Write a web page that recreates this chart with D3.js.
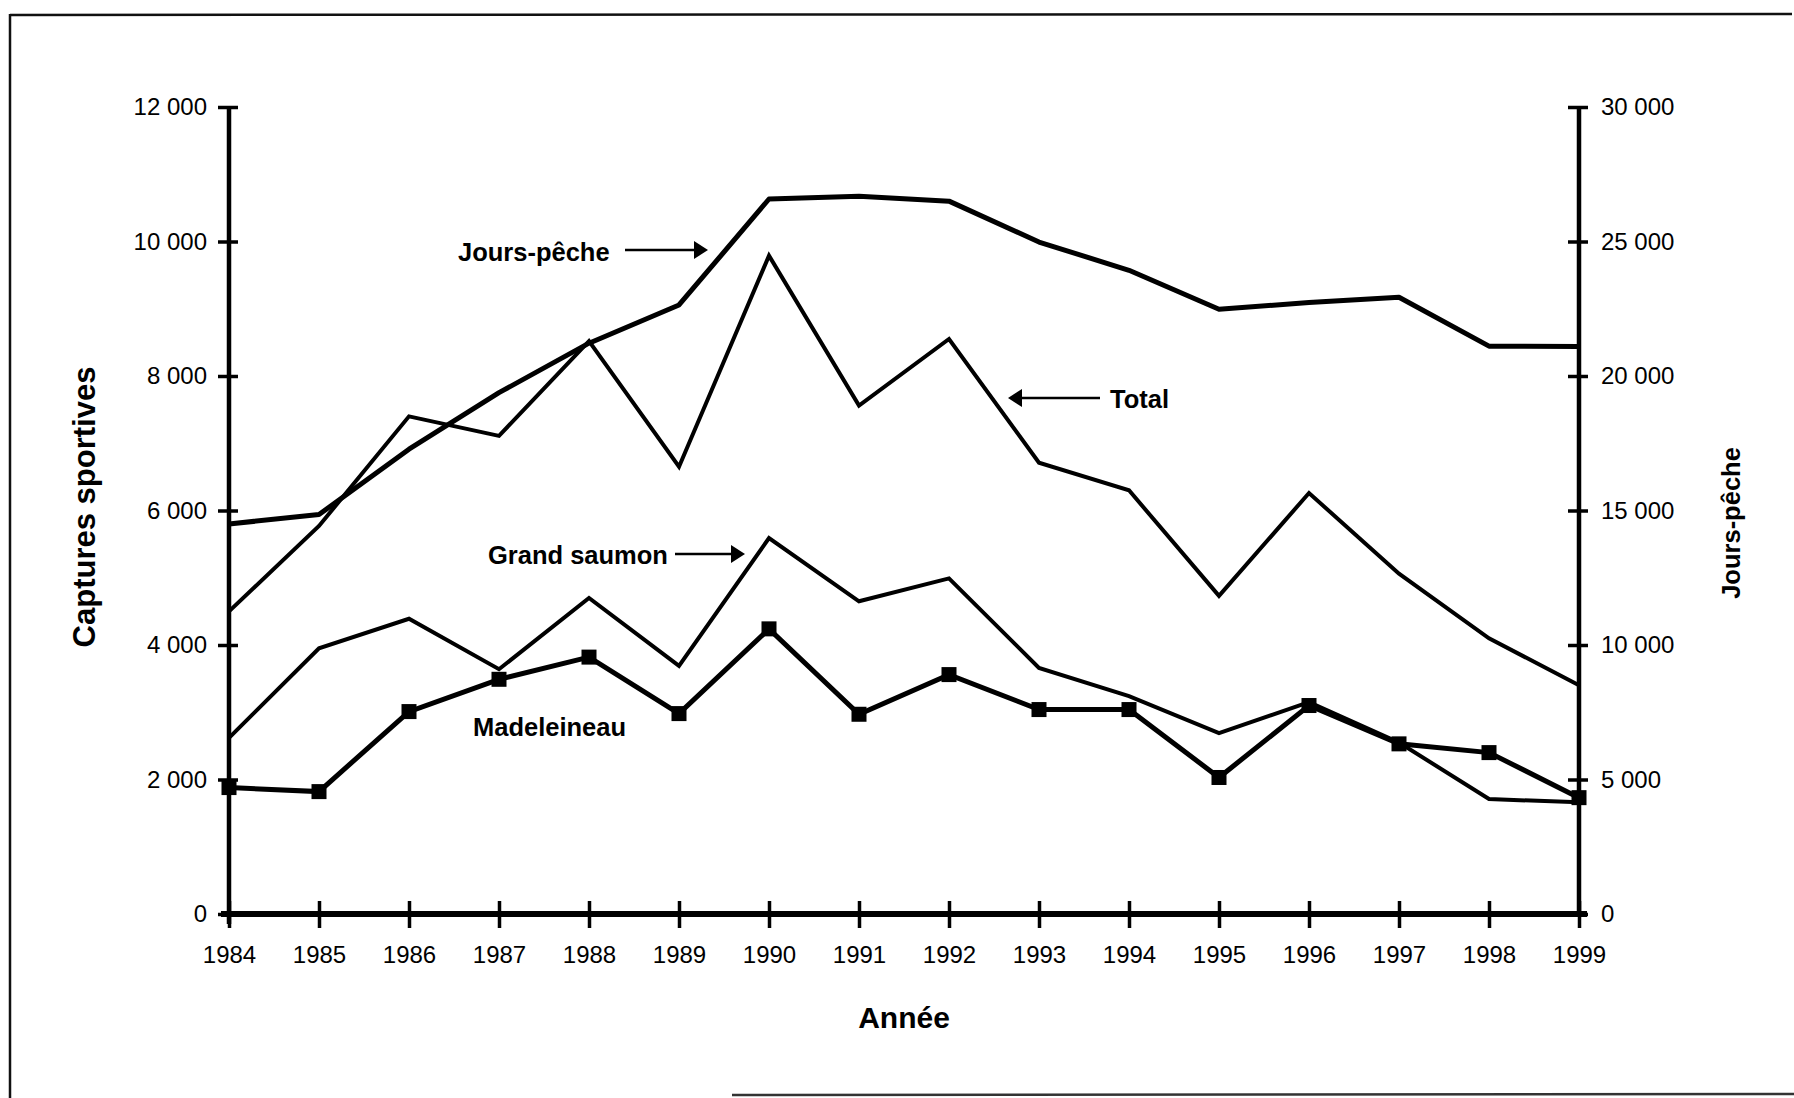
<!DOCTYPE html>
<html>
<head>
<meta charset="utf-8">
<script src="https://cdn.jsdelivr.net/npm/d3@7"></script>
<style>
  html, body { margin: 0; padding: 0; background: #fff; }
  svg { display: block; }
  text { font-family: "Liberation Sans", Arial, sans-serif; fill: #000; }
</style>
</head>
<body>
<svg id="chart" width="1794" height="1098"></svg>
<script>
// ---- Data ----
const years = [1984, 1985, 1986, 1987, 1988, 1989, 1990, 1991, 1992, 1993, 1994, 1995, 1996, 1997, 1998, 1999];
const joursPeche = [14500, 14850, 17280, 19380, 21220, 22640, 26580, 26680, 26500, 24980, 23930, 22480, 22730, 22930, 21110, 21100];
const total = [4500, 5770, 7400, 7110, 8520, 6650, 9790, 7560, 8550, 6710, 6300, 4730, 6260, 5060, 4100, 3400];
const grandSaumon = [2620, 3950, 4390, 3640, 4700, 3690, 5590, 4650, 4990, 3660, 3240, 2690, 3150, 2550, 1710, 1660];
const madeleineau = [1880, 1820, 3010, 3490, 3820, 2980, 4240, 2970, 3560, 3040, 3040, 2030, 3100, 2530, 2400, 1730];
const leftTicks = [0, 2000, 4000, 6000, 8000, 10000, 12000];
const rightTicks = [0, 5000, 10000, 15000, 20000, 25000, 30000];
const leftTitle = "Captures sportives";
const rightTitle = "Jours-pêche";
const xTitle = "Année";

// ---- Layout ----
const svg = d3.select("#chart");
const X0 = 229, X1 = 1579, YT = 107, YB = 914;

const x = d3.scaleLinear().domain([1984, 1999]).range([X0, X1]);
const yL = d3.scaleLinear().domain([0, 12000]).range([YB, YT]);
const yR = d3.scaleLinear().domain([0, 30000]).range([YB, YT]);
const fmt = v => d3.format(",")(v).replace(/,/g, " ");

// frame
svg.append("line").attr("x1", 10).attr("y1", 15).attr("x2", 1792).attr("y2", 14)
  .attr("stroke", "#111").attr("stroke-width", 2.5);
svg.append("line").attr("x1", 10).attr("y1", 14).attr("x2", 10).attr("y2", 1098)
  .attr("stroke", "#111").attr("stroke-width", 2.5);
svg.append("line").attr("x1", 732).attr("y1", 1095).attr("x2", 1794).attr("y2", 1094)
  .attr("stroke", "#333").attr("stroke-width", 2.5);

// ---- Axes ----
const axL = svg.append("g").attr("transform", `translate(${X0},0)`)
  .call(d3.axisLeft(yL).tickValues(leftTicks).tickFormat(fmt).tickSize(10).tickPadding(12));
const axR = svg.append("g").attr("transform", `translate(${X1},0)`)
  .call(d3.axisRight(yR).tickValues(rightTicks).tickFormat(fmt).tickSize(10).tickPadding(12));
const axX = svg.append("g").attr("transform", `translate(0,${YB})`)
  .call(d3.axisBottom(x).tickValues(years).tickFormat(d3.format("d")).tickSize(10).tickPadding(22));

[axL, axR, axX].forEach(g => {
  g.select(".domain").attr("stroke", "#000").attr("stroke-width", 4.5);
  g.selectAll(".tick line").attr("stroke", "#000").attr("stroke-width", 3.5);
  g.selectAll(".tick text").style("font-size", "24px").style("font-family", '"Liberation Sans", Arial, sans-serif').attr("fill", "#000");
});
axX.select(".domain").attr("stroke-width", 6);
// make ticks cross the axes
axL.selectAll(".tick line").attr("x1", -11).attr("x2", 9);
axR.selectAll(".tick line").attr("x1", -11).attr("x2", 9);
axX.selectAll(".tick line").attr("y1", -13).attr("y2", 14);
axL.select(".domain").attr("d", `M0,${YT}V${YB + 10}`);
axR.select(".domain").attr("d", `M0,${YT}V${YB}`);
axX.select(".domain").attr("d", `M${X0 - 8},0H${X1 + 8}`);
axX.selectAll(".tick text").attr("dy", "0.71em");

// axis titles
svg.append("text").attr("transform", "translate(95,507) rotate(-90)")
  .attr("text-anchor", "middle").style("font-size", "31px").style("font-weight", "bold").text(leftTitle);
svg.append("text").attr("transform", "translate(1740,523) rotate(-90)")
  .attr("text-anchor", "middle").style("font-size", "25.5px").style("font-weight", "bold").text(rightTitle);
svg.append("text").attr("x", 904).attr("y", 1028)
  .attr("text-anchor", "middle").style("font-size", "30px").style("font-weight", "bold").text(xTitle);

// ---- Lines ----
const lineL = d3.line().x((d, i) => x(years[i])).y(d => yL(d));
const lineR = d3.line().x((d, i) => x(years[i])).y(d => yR(d));

svg.append("path").datum(joursPeche).attr("d", lineR)
  .attr("fill", "none").attr("stroke", "#000").attr("stroke-width", 5).attr("stroke-linejoin", "round");
svg.append("path").datum(total).attr("d", lineL)
  .attr("fill", "none").attr("stroke", "#000").attr("stroke-width", 4).attr("stroke-linejoin", "miter");
svg.append("path").datum(grandSaumon).attr("d", lineL)
  .attr("fill", "none").attr("stroke", "#000").attr("stroke-width", 4).attr("stroke-linejoin", "miter");
svg.append("path").datum(madeleineau).attr("d", lineL)
  .attr("fill", "none").attr("stroke", "#000").attr("stroke-width", 5).attr("stroke-linejoin", "miter");

const sq = 15;
svg.append("g").selectAll("rect").data(madeleineau).join("rect")
  .attr("x", (d, i) => x(years[i]) - sq / 2).attr("y", d => yL(d) - sq / 2)
  .attr("width", sq).attr("height", sq).attr("fill", "#000");

// ---- Annotations ----
function label(txt, tx, ty, anchor) {
  svg.append("text").attr("x", tx).attr("y", ty).attr("text-anchor", anchor || "start")
    .style("font-size", "25.5px").style("font-weight", "bold").text(txt);
}
function arrow(xa, xb, yy) { // from xa to xb with head at xb
  const dir = xb > xa ? 1 : -1;
  svg.append("line").attr("x1", xa).attr("y1", yy).attr("x2", xb - dir * 10).attr("y2", yy)
    .attr("stroke", "#000").attr("stroke-width", 2.5);
  svg.append("path")
    .attr("d", `M${xb},${yy} L${xb - dir * 14},${yy - 9} L${xb - dir * 14},${yy + 9} Z`)
    .attr("fill", "#000");
}
label("Jours-pêche", 458, 261);
arrow(625, 708, 250);
label("Total", 1110, 408);
arrow(1100, 1008, 398);
label("Grand saumon", 488, 564);
arrow(675, 745, 554);
label("Madeleineau", 473, 736);
</script>
</body>
</html>
